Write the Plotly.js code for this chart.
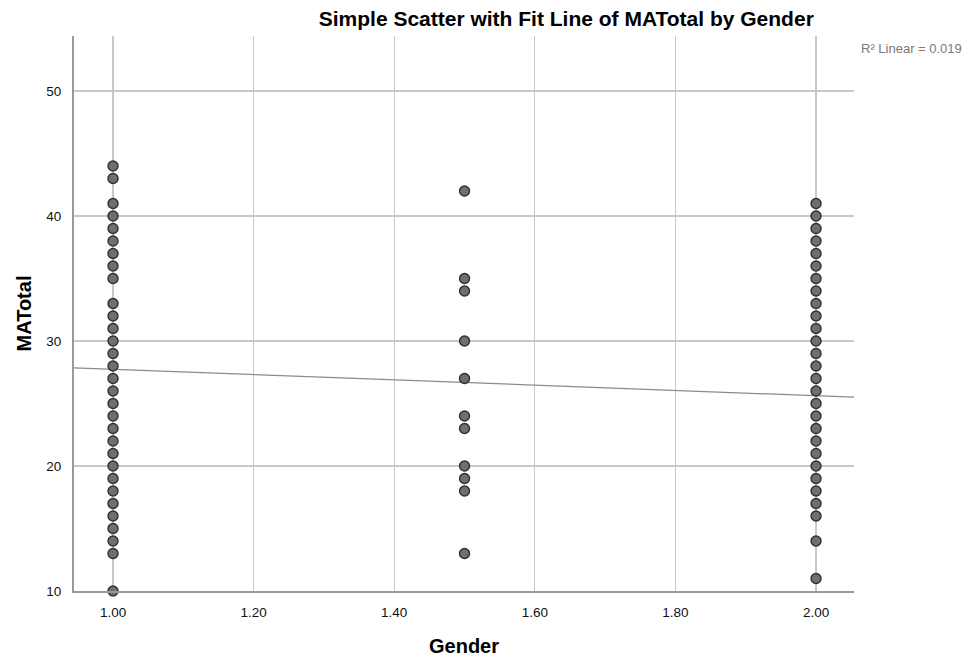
<!DOCTYPE html>
<html>
<head>
<meta charset="utf-8">
<script src="https://cdn.plot.ly/plotly-3.0.1.min.js"></script>
<style>html,body{margin:0;padding:0;background:#fff;}#chart{width:978px;height:659px;}</style>
</head>
<body>
<div id="chart"></div>
<script>
// Data
const gender1Values = [44, 43, 41, 40, 39, 38, 37, 36, 35, 33, 32, 31, 30, 29, 28, 27, 26, 25, 24, 23, 22, 21, 20, 19, 18, 17, 16, 15, 14, 13, 10];
const genderMidValues = [42, 35, 34, 30, 27, 24, 23, 20, 19, 18, 13];
const gender2Values = [41, 40, 39, 38, 37, 36, 35, 34, 33, 32, 31, 30, 29, 28, 27, 26, 25, 24, 23, 22, 21, 20, 19, 18, 17, 16, 14, 11];
const genderLevels = [1.0, 1.5, 2.0];
const fitIntercept = 29.86;
const fitSlope = -2.12;
const rSquaredLabel = "R² Linear = 0.019";
const xTickVals = [1.0, 1.2, 1.4, 1.6, 1.8, 2.0];
const xTickText = ["1.00", "1.20", "1.40", "1.60", "1.80", "2.00"];
const yTickVals = [10, 20, 30, 40, 50];

const xRange = [0.9445, 2.054];
const yRange = [10, 54.4];

const xs = [], ys = [];
[gender1Values, genderMidValues, gender2Values].forEach((vals, i) => {
  vals.forEach(v => { xs.push(genderLevels[i]); ys.push(v); });
});

const fitX = xRange.slice();
const fitY = fitX.map(x => fitIntercept + fitSlope * x);

const font = "'Liberation Sans', Arial, sans-serif";

const traces = [
  {
    x: fitX, y: fitY, type: 'scatter', mode: 'lines',
    line: {color: '#8c8c8c', width: 1.2},
    hoverinfo: 'skip', showlegend: false, cliponaxis: true
  },
  {
    x: xs, y: ys, type: 'scatter', mode: 'markers',
    marker: {size: 10, color: '#6f6f6f', line: {color: '#303030', width: 1.4}},
    showlegend: false, cliponaxis: false
  }
];

const layout = {
  width: 978, height: 659,
  margin: {l: 74, r: 124, t: 36, b: 68},
  paper_bgcolor: '#ffffff', plot_bgcolor: '#ffffff',
  font: {family: font, size: 13, color: '#111'},
  showlegend: false,
  title: {
    text: 'Simple Scatter with Fit Line of MATotal by Gender',
    font: {family: font, size: 21, color: '#000', weight: 'bold'},
    xref: 'container', x: 0.579, xanchor: 'center',
    yref: 'container', y: 0.972, yanchor: 'middle'
  },
  xaxis: {
    range: xRange, tickvals: xTickVals, ticktext: xTickText,
    showgrid: true, gridcolor: '#c8c8c8', gridwidth: 1.2,
    showline: true, linecolor: '#9a9a9a', linewidth: 2,
    zeroline: false, ticks: '', ticklabelstandoff: 8,
    tickfont: {family: font, size: 13.5, color: '#111'},
    title: {text: 'Gender', font: {family: font, size: 20, color: '#000', weight: 'bold'}, standoff: 20}
  },
  yaxis: {
    range: yRange, tickvals: yTickVals,
    showgrid: true, gridcolor: '#c8c8c8', gridwidth: 1.2,
    showline: true, linecolor: '#9a9a9a', linewidth: 2,
    zeroline: false, ticks: '', ticklabelstandoff: 8,
    tickfont: {family: font, size: 13.5, color: '#111'},
    title: {text: 'MATotal', font: {family: font, size: 20, color: '#000', weight: 'bold'}, standoff: 9}
  },
  annotations: [{
    text: rSquaredLabel, xref: 'paper', yref: 'paper',
    x: 1.006, y: 0.977, xanchor: 'left', yanchor: 'middle', showarrow: false,
    font: {family: font, size: 13, color: '#7a7a7a'}
  }]
};

Plotly.newPlot('chart', traces, layout, {staticPlot: true, displayModeBar: false});
</script>
</body>
</html>
